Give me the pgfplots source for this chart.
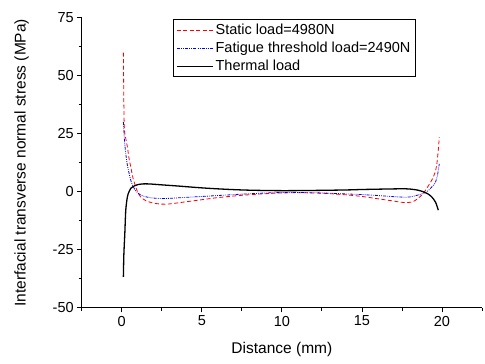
\documentclass[border=0pt]{standalone}
\usepackage{pgfplots}
\pgfplotsset{compat=1.18}
\usepackage{fontspec}
\setmainfont{Liberation Sans}
\begin{document}
\begin{tikzpicture}
\begin{axis}[
  name=ax,
  scale only axis,
  width=400pt, height=290pt,
  xmin=-2.5, xmax=22.5, ymin=-50, ymax=75,
  axis lines=left,
  axis line style={-, line width=0.9pt},
  xtick={0,5,10,15,20},
  ytick={-50,-25,0,25,50,75},
  minor xtick={-2.5,2.5,7.5,12.5,17.5,22.5},
  minor ytick={-37.5,-12.5,12.5,37.5,62.5},
  tick align=outside,
  major tick length=4.5pt, minor tick length=3pt,
  tick style={black, line width=0.8pt},
  /pgf/number format/assume math mode=true,
  ticklabel style={font=\fontsize{14.5}{16}\selectfont},
  xlabel={Distance (mm)},
  ylabel={Interfacial transverse normal stress (MPa)},
  label style={font=\fontsize{15.5}{17}\selectfont},
  xlabel style={at={(rel axis cs:0.5,0)}, anchor=center, yshift=-42pt},
  ylabel style={at={(rel axis cs:0,0.5)}, anchor=center, yshift=60pt},
  legend style={at={(0.229,0.9945)}, anchor=north west, draw=black, line width=0.8pt,
    font=\fontsize{14.5}{16}\selectfont, row sep=2pt, inner sep=2.5pt},
  legend image code/.code={\draw[#1] (0pt,0pt) -- (36pt,0pt);},
  legend cell align=left,
  clip=false,
]
\addplot[red, line width=0.8pt, dash pattern=on 4pt off 2.5pt, smooth] coordinates {
(0.10,60) (0.15,29.5) (0.25,23) (0.35,19.4) (0.45,14.5) (0.56,10.8) (0.7,6) (0.87,2.2) (1.0,-0.2) (1.18,-2.2) (1.5,-3.8) (2.0,-4.9) (2.5,-5.3) (3.0,-5.2) (4.0,-4.3) (5.0,-3.4) (6.0,-2.5) (7.5,-1.5) (9.0,-0.8) (10.0,-0.5) (11.0,-0.4) (12.5,-0.6) (14.0,-1.3) (15.0,-2.0) (16.0,-3.0) (17.0,-4.0) (17.6,-4.6) (18.2,-4.2) (18.74,-1.4) (19.05,1.5) (19.36,5) (19.55,8) (19.67,11.5) (19.77,18) (19.83,23.5)
};
\addlegendentry{Static load=4980N}
\addplot[blue, line width=0.8pt, dash pattern=on 3pt off 1.2pt on 0.8pt off 1.2pt on 0.8pt off 1.2pt, smooth] coordinates {
(0.10,30) (0.17,22) (0.25,16.5) (0.35,11.5) (0.46,7.9) (0.55,5.3) (0.67,2.9) (0.85,0.6) (1.0,-0.5) (1.18,-1.4) (1.6,-2.3) (2.0,-2.7) (2.5,-2.9) (3.0,-2.8) (4.0,-2.4) (5.0,-2.0) (6.0,-1.6) (7.5,-1.0) (9.0,-0.5) (10.0,-0.3) (11.0,-0.3) (12.5,-0.5) (14.0,-0.9) (15.0,-1.2) (16.0,-1.6) (17.0,-2.1) (17.6,-2.3) (18.0,-2.2) (18.5,-1.4) (19.05,0) (19.35,2) (19.56,3.6) (19.7,6.5) (19.77,9.3) (19.83,12)
};
\addlegendentry{Fatigue threshold load=2490N}
\addplot[black, line width=1.3pt, smooth] coordinates {
(0.10,-36.6) (0.13,-27) (0.19,-17.9) (0.25,-7.9) (0.35,-2.2) (0.45,0) (0.56,1.5) (0.8,2.6) (1.0,3.1) (1.3,3.4) (1.7,3.4) (2.5,3.0) (3.5,2.5) (5.0,1.7) (6.5,1.1) (8.0,0.7) (10.0,0.5) (12.0,0.6) (14.0,0.8) (15.0,1.0) (16.5,1.2) (17.5,1.3) (18.0,1.2) (18.5,0.7) (18.84,0) (19.1,-0.8) (19.36,-2.2) (19.6,-4.5) (19.77,-7.9)
};
\addlegendentry{Thermal load}
\end{axis}
\path ([xshift=-81.7pt,yshift=-55.3pt]ax.south west) rectangle ([xshift=3pt,yshift=17.7pt]ax.north east);
\end{tikzpicture}
\end{document}
